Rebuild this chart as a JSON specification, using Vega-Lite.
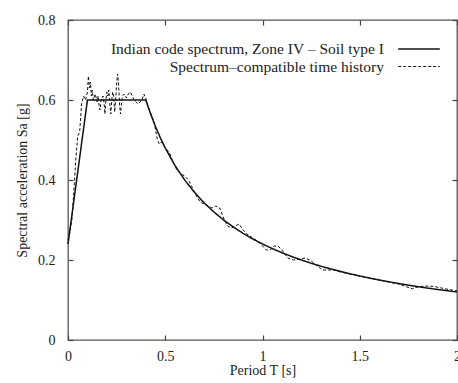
{
  "$schema": "https://vega.github.io/schema/vega-lite/v6.json",
  "width": 389,
  "height": 320,
  "autosize": {"type": "none"},
  "padding": {"left": 68, "top": 20, "right": 1, "bottom": 43},
  "background": "white",
  "config": {
    "view": {"stroke": "#555", "strokeWidth": 1.3},
    "font": "Liberation Serif",
    "axis": {
      "grid": false, "domain": false, "tickSize": -5, "tickColor": "#444", "tickWidth": 1.2,
      "labelFont": "Liberation Serif", "labelFontSize": 14, "labelColor": "#222",
      "titleFont": "Liberation Serif", "titleFontSize": 14, "titleFontWeight": "normal", "titleColor": "#222"
    },
    "legend": {
      "labelFont": "Liberation Serif", "labelFontSize": 15.5, "labelColor": "#222", "labelLimit": 500
    }
  },
  "data": {"values": [
    {"T": 0, "Sa": 0.24, "s": "Indian code spectrum, Zone IV – Soil type I"},
    {"T": 0.1, "Sa": 0.6, "s": "Indian code spectrum, Zone IV – Soil type I"},
    {"T": 0.4, "Sa": 0.6, "s": "Indian code spectrum, Zone IV – Soil type I"},
    {"T": 0.425, "Sa": 0.5647, "s": "Indian code spectrum, Zone IV – Soil type I"},
    {"T": 0.45, "Sa": 0.5333, "s": "Indian code spectrum, Zone IV – Soil type I"},
    {"T": 0.475, "Sa": 0.5053, "s": "Indian code spectrum, Zone IV – Soil type I"},
    {"T": 0.5, "Sa": 0.48, "s": "Indian code spectrum, Zone IV – Soil type I"},
    {"T": 0.55, "Sa": 0.4364, "s": "Indian code spectrum, Zone IV – Soil type I"},
    {"T": 0.6, "Sa": 0.4, "s": "Indian code spectrum, Zone IV – Soil type I"},
    {"T": 0.65, "Sa": 0.3692, "s": "Indian code spectrum, Zone IV – Soil type I"},
    {"T": 0.7, "Sa": 0.3429, "s": "Indian code spectrum, Zone IV – Soil type I"},
    {"T": 0.75, "Sa": 0.32, "s": "Indian code spectrum, Zone IV – Soil type I"},
    {"T": 0.8, "Sa": 0.3, "s": "Indian code spectrum, Zone IV – Soil type I"},
    {"T": 0.85, "Sa": 0.2824, "s": "Indian code spectrum, Zone IV – Soil type I"},
    {"T": 0.9, "Sa": 0.2667, "s": "Indian code spectrum, Zone IV – Soil type I"},
    {"T": 0.95, "Sa": 0.2526, "s": "Indian code spectrum, Zone IV – Soil type I"},
    {"T": 1.0, "Sa": 0.24, "s": "Indian code spectrum, Zone IV – Soil type I"},
    {"T": 1.05, "Sa": 0.2286, "s": "Indian code spectrum, Zone IV – Soil type I"},
    {"T": 1.1, "Sa": 0.2182, "s": "Indian code spectrum, Zone IV – Soil type I"},
    {"T": 1.15, "Sa": 0.2087, "s": "Indian code spectrum, Zone IV – Soil type I"},
    {"T": 1.2, "Sa": 0.2, "s": "Indian code spectrum, Zone IV – Soil type I"},
    {"T": 1.25, "Sa": 0.192, "s": "Indian code spectrum, Zone IV – Soil type I"},
    {"T": 1.3, "Sa": 0.1846, "s": "Indian code spectrum, Zone IV – Soil type I"},
    {"T": 1.35, "Sa": 0.1778, "s": "Indian code spectrum, Zone IV – Soil type I"},
    {"T": 1.4, "Sa": 0.1714, "s": "Indian code spectrum, Zone IV – Soil type I"},
    {"T": 1.45, "Sa": 0.1655, "s": "Indian code spectrum, Zone IV – Soil type I"},
    {"T": 1.5, "Sa": 0.16, "s": "Indian code spectrum, Zone IV – Soil type I"},
    {"T": 1.55, "Sa": 0.1548, "s": "Indian code spectrum, Zone IV – Soil type I"},
    {"T": 1.6, "Sa": 0.15, "s": "Indian code spectrum, Zone IV – Soil type I"},
    {"T": 1.65, "Sa": 0.1455, "s": "Indian code spectrum, Zone IV – Soil type I"},
    {"T": 1.7, "Sa": 0.1412, "s": "Indian code spectrum, Zone IV – Soil type I"},
    {"T": 1.75, "Sa": 0.1371, "s": "Indian code spectrum, Zone IV – Soil type I"},
    {"T": 1.8, "Sa": 0.1333, "s": "Indian code spectrum, Zone IV – Soil type I"},
    {"T": 1.85, "Sa": 0.1297, "s": "Indian code spectrum, Zone IV – Soil type I"},
    {"T": 1.9, "Sa": 0.1263, "s": "Indian code spectrum, Zone IV – Soil type I"},
    {"T": 1.95, "Sa": 0.1231, "s": "Indian code spectrum, Zone IV – Soil type I"},
    {"T": 2.0, "Sa": 0.12, "s": "Indian code spectrum, Zone IV – Soil type I"},
    {"T": 0, "Sa": 0.25, "s": "Spectrum–compatible time history"},
    {"T": 0.01, "Sa": 0.27, "s": "Spectrum–compatible time history"},
    {"T": 0.02, "Sa": 0.30, "s": "Spectrum–compatible time history"},
    {"T": 0.03, "Sa": 0.37, "s": "Spectrum–compatible time history"},
    {"T": 0.04, "Sa": 0.45, "s": "Spectrum–compatible time history"},
    {"T": 0.05, "Sa": 0.51, "s": "Spectrum–compatible time history"},
    {"T": 0.06, "Sa": 0.52, "s": "Spectrum–compatible time history"},
    {"T": 0.07, "Sa": 0.59, "s": "Spectrum–compatible time history"},
    {"T": 0.08, "Sa": 0.61, "s": "Spectrum–compatible time history"},
    {"T": 0.09, "Sa": 0.60, "s": "Spectrum–compatible time history"},
    {"T": 0.1, "Sa": 0.62, "s": "Spectrum–compatible time history"},
    {"T": 0.105, "Sa": 0.66, "s": "Spectrum–compatible time history"},
    {"T": 0.11, "Sa": 0.63, "s": "Spectrum–compatible time history"},
    {"T": 0.115, "Sa": 0.645, "s": "Spectrum–compatible time history"},
    {"T": 0.12, "Sa": 0.61, "s": "Spectrum–compatible time history"},
    {"T": 0.125, "Sa": 0.625, "s": "Spectrum–compatible time history"},
    {"T": 0.13, "Sa": 0.60, "s": "Spectrum–compatible time history"},
    {"T": 0.14, "Sa": 0.615, "s": "Spectrum–compatible time history"},
    {"T": 0.15, "Sa": 0.595, "s": "Spectrum–compatible time history"},
    {"T": 0.155, "Sa": 0.61, "s": "Spectrum–compatible time history"},
    {"T": 0.16, "Sa": 0.585, "s": "Spectrum–compatible time history"},
    {"T": 0.165, "Sa": 0.575, "s": "Spectrum–compatible time history"},
    {"T": 0.17, "Sa": 0.60, "s": "Spectrum–compatible time history"},
    {"T": 0.18, "Sa": 0.61, "s": "Spectrum–compatible time history"},
    {"T": 0.185, "Sa": 0.595, "s": "Spectrum–compatible time history"},
    {"T": 0.19, "Sa": 0.565, "s": "Spectrum–compatible time history"},
    {"T": 0.195, "Sa": 0.60, "s": "Spectrum–compatible time history"},
    {"T": 0.2, "Sa": 0.62, "s": "Spectrum–compatible time history"},
    {"T": 0.205, "Sa": 0.61, "s": "Spectrum–compatible time history"},
    {"T": 0.21, "Sa": 0.625, "s": "Spectrum–compatible time history"},
    {"T": 0.215, "Sa": 0.59, "s": "Spectrum–compatible time history"},
    {"T": 0.22, "Sa": 0.565, "s": "Spectrum–compatible time history"},
    {"T": 0.225, "Sa": 0.60, "s": "Spectrum–compatible time history"},
    {"T": 0.23, "Sa": 0.62, "s": "Spectrum–compatible time history"},
    {"T": 0.235, "Sa": 0.61, "s": "Spectrum–compatible time history"},
    {"T": 0.24, "Sa": 0.57, "s": "Spectrum–compatible time history"},
    {"T": 0.245, "Sa": 0.60, "s": "Spectrum–compatible time history"},
    {"T": 0.25, "Sa": 0.64, "s": "Spectrum–compatible time history"},
    {"T": 0.255, "Sa": 0.665, "s": "Spectrum–compatible time history"},
    {"T": 0.26, "Sa": 0.64, "s": "Spectrum–compatible time history"},
    {"T": 0.265, "Sa": 0.59, "s": "Spectrum–compatible time history"},
    {"T": 0.27, "Sa": 0.565, "s": "Spectrum–compatible time history"},
    {"T": 0.275, "Sa": 0.59, "s": "Spectrum–compatible time history"},
    {"T": 0.28, "Sa": 0.61, "s": "Spectrum–compatible time history"},
    {"T": 0.29, "Sa": 0.615, "s": "Spectrum–compatible time history"},
    {"T": 0.30, "Sa": 0.605, "s": "Spectrum–compatible time history"},
    {"T": 0.31, "Sa": 0.615, "s": "Spectrum–compatible time history"},
    {"T": 0.32, "Sa": 0.62, "s": "Spectrum–compatible time history"},
    {"T": 0.33, "Sa": 0.61, "s": "Spectrum–compatible time history"},
    {"T": 0.34, "Sa": 0.60, "s": "Spectrum–compatible time history"},
    {"T": 0.35, "Sa": 0.595, "s": "Spectrum–compatible time history"},
    {"T": 0.36, "Sa": 0.59, "s": "Spectrum–compatible time history"},
    {"T": 0.37, "Sa": 0.595, "s": "Spectrum–compatible time history"},
    {"T": 0.38, "Sa": 0.60, "s": "Spectrum–compatible time history"},
    {"T": 0.39, "Sa": 0.615, "s": "Spectrum–compatible time history"},
    {"T": 0.40, "Sa": 0.605, "s": "Spectrum–compatible time history"},
    {"T": 0.41, "Sa": 0.585, "s": "Spectrum–compatible time history"},
    {"T": 0.42, "Sa": 0.575, "s": "Spectrum–compatible time history"},
    {"T": 0.43, "Sa": 0.56, "s": "Spectrum–compatible time history"},
    {"T": 0.44, "Sa": 0.55, "s": "Spectrum–compatible time history"},
    {"T": 0.45, "Sa": 0.525, "s": "Spectrum–compatible time history"},
    {"T": 0.46, "Sa": 0.50, "s": "Spectrum–compatible time history"},
    {"T": 0.47, "Sa": 0.49, "s": "Spectrum–compatible time history"},
    {"T": 0.48, "Sa": 0.495, "s": "Spectrum–compatible time history"},
    {"T": 0.50, "Sa": 0.48, "s": "Spectrum–compatible time history"},
    {"T": 0.52, "Sa": 0.47, "s": "Spectrum–compatible time history"},
    {"T": 0.54, "Sa": 0.445, "s": "Spectrum–compatible time history"},
    {"T": 0.56, "Sa": 0.425, "s": "Spectrum–compatible time history"},
    {"T": 0.58, "Sa": 0.415, "s": "Spectrum–compatible time history"},
    {"T": 0.60, "Sa": 0.41, "s": "Spectrum–compatible time history"},
    {"T": 0.62, "Sa": 0.40, "s": "Spectrum–compatible time history"},
    {"T": 0.64, "Sa": 0.38, "s": "Spectrum–compatible time history"},
    {"T": 0.66, "Sa": 0.36, "s": "Spectrum–compatible time history"},
    {"T": 0.68, "Sa": 0.345, "s": "Spectrum–compatible time history"},
    {"T": 0.70, "Sa": 0.34, "s": "Spectrum–compatible time history"},
    {"T": 0.72, "Sa": 0.335, "s": "Spectrum–compatible time history"},
    {"T": 0.74, "Sa": 0.33, "s": "Spectrum–compatible time history"},
    {"T": 0.76, "Sa": 0.335, "s": "Spectrum–compatible time history"},
    {"T": 0.78, "Sa": 0.33, "s": "Spectrum–compatible time history"},
    {"T": 0.80, "Sa": 0.305, "s": "Spectrum–compatible time history"},
    {"T": 0.82, "Sa": 0.285, "s": "Spectrum–compatible time history"},
    {"T": 0.84, "Sa": 0.28, "s": "Spectrum–compatible time history"},
    {"T": 0.86, "Sa": 0.285, "s": "Spectrum–compatible time history"},
    {"T": 0.88, "Sa": 0.29, "s": "Spectrum–compatible time history"},
    {"T": 0.90, "Sa": 0.275, "s": "Spectrum–compatible time history"},
    {"T": 0.92, "Sa": 0.265, "s": "Spectrum–compatible time history"},
    {"T": 0.95, "Sa": 0.255, "s": "Spectrum–compatible time history"},
    {"T": 0.98, "Sa": 0.245, "s": "Spectrum–compatible time history"},
    {"T": 1.00, "Sa": 0.235, "s": "Spectrum–compatible time history"},
    {"T": 1.02, "Sa": 0.225, "s": "Spectrum–compatible time history"},
    {"T": 1.04, "Sa": 0.225, "s": "Spectrum–compatible time history"},
    {"T": 1.06, "Sa": 0.235, "s": "Spectrum–compatible time history"},
    {"T": 1.08, "Sa": 0.235, "s": "Spectrum–compatible time history"},
    {"T": 1.10, "Sa": 0.225, "s": "Spectrum–compatible time history"},
    {"T": 1.13, "Sa": 0.205, "s": "Spectrum–compatible time history"},
    {"T": 1.16, "Sa": 0.20, "s": "Spectrum–compatible time history"},
    {"T": 1.19, "Sa": 0.202, "s": "Spectrum–compatible time history"},
    {"T": 1.22, "Sa": 0.205, "s": "Spectrum–compatible time history"},
    {"T": 1.25, "Sa": 0.198, "s": "Spectrum–compatible time history"},
    {"T": 1.28, "Sa": 0.185, "s": "Spectrum–compatible time history"},
    {"T": 1.31, "Sa": 0.175, "s": "Spectrum–compatible time history"},
    {"T": 1.34, "Sa": 0.175, "s": "Spectrum–compatible time history"},
    {"T": 1.37, "Sa": 0.175, "s": "Spectrum–compatible time history"},
    {"T": 1.40, "Sa": 0.17, "s": "Spectrum–compatible time history"},
    {"T": 1.45, "Sa": 0.165, "s": "Spectrum–compatible time history"},
    {"T": 1.50, "Sa": 0.16, "s": "Spectrum–compatible time history"},
    {"T": 1.55, "Sa": 0.155, "s": "Spectrum–compatible time history"},
    {"T": 1.60, "Sa": 0.15, "s": "Spectrum–compatible time history"},
    {"T": 1.65, "Sa": 0.145, "s": "Spectrum–compatible time history"},
    {"T": 1.70, "Sa": 0.14, "s": "Spectrum–compatible time history"},
    {"T": 1.74, "Sa": 0.133, "s": "Spectrum–compatible time history"},
    {"T": 1.77, "Sa": 0.128, "s": "Spectrum–compatible time history"},
    {"T": 1.80, "Sa": 0.133, "s": "Spectrum–compatible time history"},
    {"T": 1.84, "Sa": 0.135, "s": "Spectrum–compatible time history"},
    {"T": 1.88, "Sa": 0.134, "s": "Spectrum–compatible time history"},
    {"T": 1.92, "Sa": 0.13, "s": "Spectrum–compatible time history"},
    {"T": 1.96, "Sa": 0.126, "s": "Spectrum–compatible time history"},
    {"T": 2.0, "Sa": 0.123, "s": "Spectrum–compatible time history"}
  ]},
  "layer": [
    {
      "mark": {"type": "line", "color": "#111"},
      "encoding": {
        "x": {"field": "T", "type": "quantitative", "scale": {"domain": [0, 2], "nice": false},
              "axis": {"orient": "bottom", "values": [0, 0.5, 1, 1.5, 2], "format": "~g", "title": "Period T [s]", "labelPadding": 14, "titlePadding": 0, "labelFlush": false}},
        "y": {"field": "Sa", "type": "quantitative", "scale": {"domain": [0, 0.8], "nice": false},
              "axis": {"orient": "left", "values": [0, 0.2, 0.4, 0.6, 0.8], "title": "Spectral acceleration Sa [g]", "labelPadding": 18, "titlePadding": 8, "format": "~g", "labelFlush": false}},
        "strokeDash": {"field": "s", "type": "nominal",
          "scale": {"domain": ["Indian code spectrum, Zone IV – Soil type I", "Spectrum–compatible time history"], "range": [[1, 0], [3, 2]]},
          "legend": {"title": null, "orient": "none", "legendX": 342, "legendY": 20, "symbolType": "M-2.6,0H2.6", "symbolSize": 256, "symbolStrokeColor": "#111", "labelOffset": -44, "labelAlign": "right", "rowPadding": -5, "symbolStrokeWidth": 1.3}},
        "strokeWidth": {"field": "s", "type": "nominal",
          "scale": {"domain": ["Indian code spectrum, Zone IV – Soil type I", "Spectrum–compatible time history"], "range": [1.5, 1]},
          "legend": null}
      }
    },
    {
      "mark": {"type": "line", "strokeOpacity": 0},
      "encoding": {
        "x": {"field": "T", "type": "quantitative", "axis": {"orient": "top", "values": [0, 0.5, 1, 1.5, 2], "labels": false, "title": null}},
        "y": {"field": "Sa", "type": "quantitative", "axis": {"orient": "right", "values": [0, 0.2, 0.4, 0.6, 0.8], "labels": false, "title": null}},
        "detail": {"field": "s"}
      }
    }
  ],
  "resolve": {"axis": {"x": "independent", "y": "independent"}}
}
